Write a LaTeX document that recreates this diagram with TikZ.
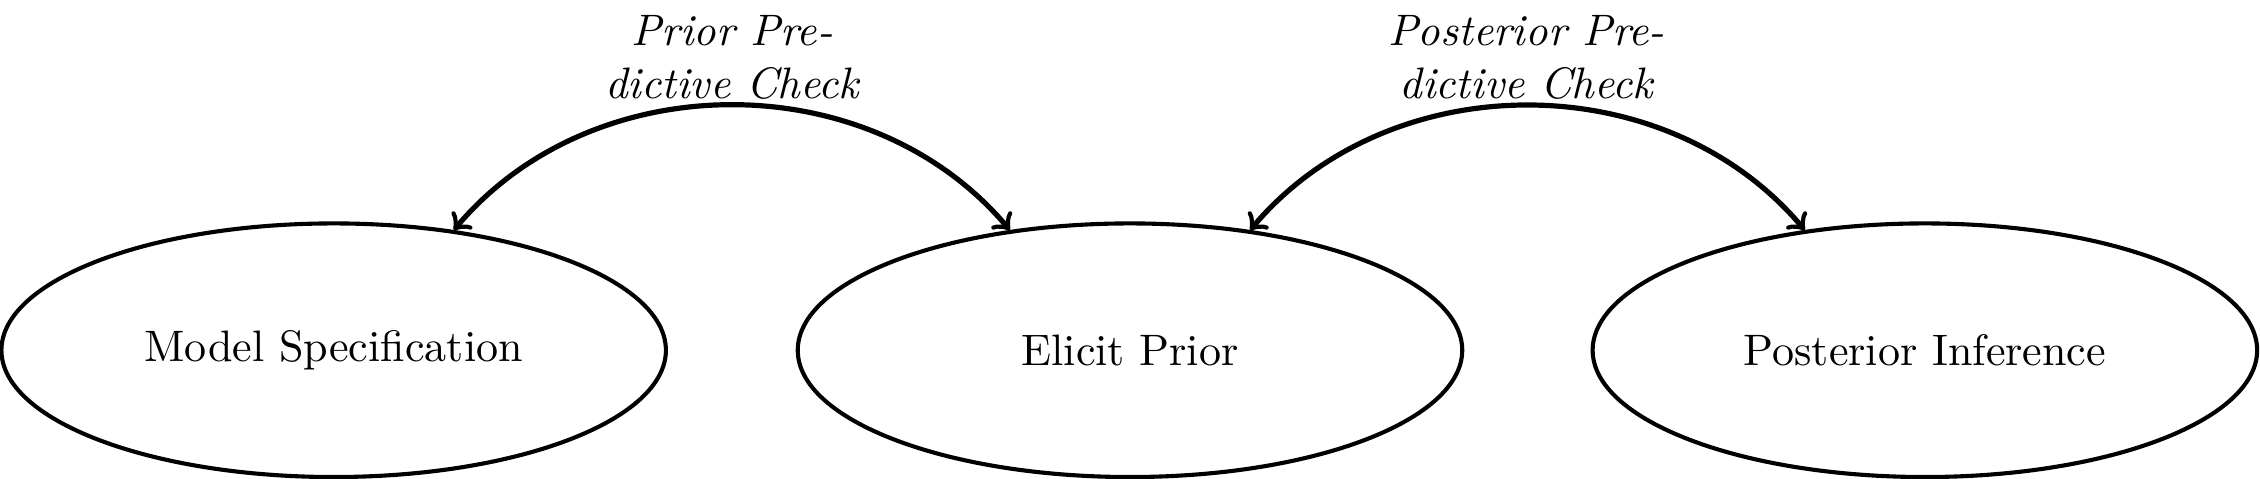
\documentclass[tikz,border=0pt]{standalone}
\usetikzlibrary{shapes.geometric}
\begin{document}
\begin{tikzpicture}[x=0.3336pt,y=0.3336pt,
  every node/.style={font=\fontsize{10.2}{12.2}\selectfont},
  state/.style={ellipse, draw, line width=0.95pt, minimum width=153.8pt, minimum height=58.7pt, inner sep=0pt},
  link/.style={<->, line width=1.2pt},
  lab/.style={font=\fontsize{10.2}{12.2}\selectfont\itshape, align=center, inner sep=0pt}]
\useasboundingbox (0,0) rectangle (1568,332);
\node[state] (m) at (231.5,89) {Model Specification};
\node[state] (e) at (784,89) {Elicit Prior};
\node[state] (p) at (1335.5,89) {Posterior Inference};
\draw[link] (m.45) to[out=50,in=130] (e.135);
\draw[link] (e.45) to[out=50,in=130] (p.135);
\node[lab] (l1) at (508,292) {Prior Pre-\\dictive Check};
\node[lab] (l2) at (1059,292) {Posterior Pre-\\dictive Check};
\end{tikzpicture}
\end{document}
